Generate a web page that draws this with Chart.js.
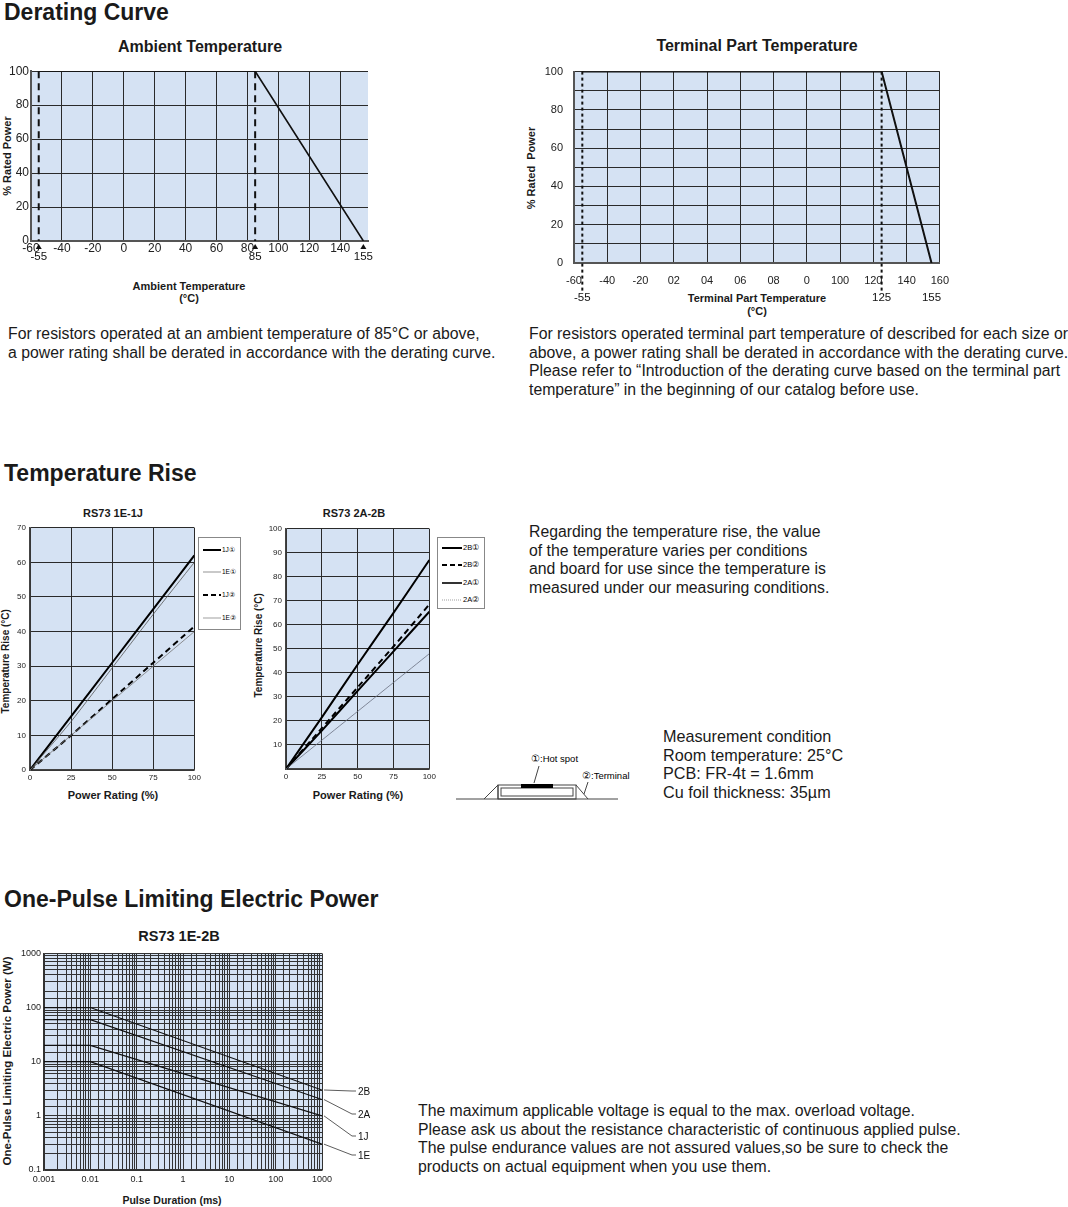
<!DOCTYPE html>
<html><head><meta charset="utf-8">
<script src="https://cdn.jsdelivr.net/npm/chart.js@4"></script>
<style>
body{margin:0;background:#fff;font-family:"Liberation Sans",Arial,sans-serif;color:#1a1a1a;}
#page{position:relative;width:1068px;height:1207px;overflow:hidden;}
.a{position:absolute;white-space:nowrap;}
.h{font-weight:bold;font-size:23px;}
.t{font-weight:bold;font-size:16px;transform:translateX(-50%);}
.st{font-weight:bold;font-size:11px;}
.p{font-size:15.8px;line-height:18.5px;}
.rot{transform:rotate(-90deg);transform-origin:center;}
canvas{position:absolute;}
.lg{position:absolute;border:1px solid #888;background:#fff;}
</style></head>
<body><div id="page">
<div class="a h" style="left:4px;top:-1px">Derating Curve</div>
<div class="a t" style="left:200px;top:38px">Ambient Temperature</div>
<div class="a t" style="left:757px;top:37px">Terminal Part Temperature</div>
<div class="a st" style="left:189px;top:280px;transform:translateX(-50%);text-align:center;line-height:12px">Ambient Temperature<br>(°C)</div>
<div class="a st" style="left:757px;top:292px;transform:translateX(-50%);text-align:center;line-height:13px">Terminal Part Temperature<br>(°C)</div>
<div class="a st rot" style="left:-38px;top:150px;width:90px;text-align:center">% Rated Power</div>
<div class="a st rot" style="left:484px;top:162px;width:94px;text-align:center">% Rated&nbsp; Power</div>
<div class="a p" style="left:8px;top:325px">For resistors operated at an ambient temperature of 85°C or above,<br>a power rating shall be derated in accordance with the derating curve.</div>
<div class="a p" style="left:529px;top:325px">For resistors operated terminal part temperature of described for each size or<br>above, a power rating shall be derated in accordance with the derating curve.<br>Please refer to “Introduction of the derating curve based on the terminal part<br>temperature” in the beginning of our catalog before use.</div>

<div class="a h" style="left:4px;top:460px">Temperature Rise</div>
<div class="a st" style="left:113px;top:507px;transform:translateX(-50%)">RS73 1E-1J</div>
<div class="a st" style="left:354px;top:507px;transform:translateX(-50%)">RS73 2A-2B</div>
<div class="a st rot" style="left:-45px;top:658px;width:100px;text-align:center;font-size:10px">Temperature Rise (°C)</div>
<div class="a st rot" style="left:208px;top:642px;width:100px;text-align:center;font-size:10px">Temperature Rise (°C)</div>
<div class="a st" style="left:113px;top:789px;transform:translateX(-50%)">Power Rating (%)</div>
<div class="a st" style="left:358px;top:789px;transform:translateX(-50%)">Power Rating (%)</div>
<div class="lg" style="left:198px;top:537px;width:41px;height:91px">
<svg width="41" height="91" style="position:absolute;left:0;top:0;font-family:Liberation Sans;font-size:6.5px">
<line x1="4" y1="12" x2="22" y2="12" stroke="#000" stroke-width="2"/><text x="23" y="14">1J①</text>
<line x1="4" y1="34" x2="22" y2="34" stroke="#666" stroke-width="0.7"/><text x="23" y="36">1E①</text>
<line x1="4" y1="57" x2="22" y2="57" stroke="#000" stroke-width="2" stroke-dasharray="5,3"/><text x="23" y="59">1J②</text>
<line x1="4" y1="80" x2="22" y2="80" stroke="#777" stroke-width="0.7"/><text x="23" y="82">1E②</text>
</svg></div>
<div class="lg" style="left:437px;top:537px;width:46px;height:70px">
<svg width="46" height="70" style="position:absolute;left:0;top:0;font-family:Liberation Sans;font-size:7.5px">
<line x1="4" y1="10" x2="24" y2="10" stroke="#000" stroke-width="2"/><text x="25" y="12">2B①</text>
<line x1="4" y1="27" x2="24" y2="27" stroke="#000" stroke-width="2" stroke-dasharray="5,3"/><text x="25" y="29">2B②</text>
<line x1="4" y1="45" x2="24" y2="45" stroke="#000" stroke-width="1.6"/><text x="25" y="47">2A①</text>
<line x1="4" y1="62" x2="24" y2="62" stroke="#777" stroke-width="0.7" stroke-dasharray="1,1"/><text x="25" y="64">2A②</text>
</svg></div>
<div class="a p" style="left:529px;top:523px">Regarding the temperature rise, the value<br>of the temperature varies per conditions<br>and board for use since the temperature is<br>measured under our measuring conditions.</div>
<div class="a p" style="left:663px;top:727px;font-size:16.2px">Measurement condition<br>Room temperature: 25°C<br>PCB: FR-4t = 1.6mm<br>Cu foil thickness: 35µm</div>
<svg class="a" style="left:450px;top:745px" width="200" height="60" font-family="Liberation Sans" font-size="9.5">
<line x1="6" y1="54" x2="168" y2="54" stroke="#444"/>
<polyline points="34,54 48,40 48,54" fill="none" stroke="#444"/>
<polyline points="126,40 138,54" fill="none" stroke="#444"/>
<rect x="48" y="40" width="78" height="14" fill="none" stroke="#444"/>
<rect x="51" y="43" width="72" height="8" fill="none" stroke="#444"/>
<rect x="71" y="39" width="32" height="4" fill="#000"/>
<text x="81" y="17">①:Hot spot</text>
<line x1="89" y1="21" x2="84" y2="38" stroke="#444"/>
<text x="132" y="34">②:Terminal</text>
<line x1="138" y1="37" x2="134" y2="49" stroke="#444"/>
</svg>

<div class="a h" style="left:4px;top:886px">One-Pulse Limiting Electric Power</div>
<div class="a t" style="left:179px;top:928px;font-size:14.5px;transform:translateX(-50%)">RS73 1E-2B</div>
<div class="a st rot" style="left:-98px;top:1055px;width:210px;text-align:center;font-size:11.5px">One-Pulse Limiting Electric Power (W)</div>
<div class="a st" style="left:172px;top:1194px;font-size:10.5px;transform:translateX(-50%)">Pulse Duration (ms)</div>
<div class="a p" style="left:418px;top:1102px">The maximum applicable voltage is equal to the max. overload voltage.<br>Please ask us about the resistance characteristic of continuous applied pulse.<br>The pulse endurance values are not assured values,so be sure to check the<br>products on actual equipment when you use them.</div>

<canvas id="c1"></canvas><canvas id="c2"></canvas><canvas id="c3"></canvas><canvas id="c4"></canvas><canvas id="c5"></canvas>
</div>
<script>
// ---------- data ----------
const ambientTemp = [-55, 85, 155];
const ambientPower = [100, 100, 0];
const ambientTickValues = [-60, -40, -20, 0, 20, 40, 60, 80, 100, 120, 140];
const ambientTickLabels = ['-60', '-40', '-20', '0', '20', '40', '60', '80', '100', '120', '140'];
const ambientMarks = [-55, 85, 155];

const terminalTemp = [-55, 125, 155];
const terminalPower = [100, 100, 0];
const terminalTickValues = [-60, -40, -20, 0, 20, 40, 60, 80, 100, 120, 140, 160];
const terminalTickLabels = ['-60', '-40', '-20', '02', '04', '06', '08', '0', '100', '120', '140', '160'];
const terminalMarks = [-55, 125, 155];

const powerRating = [0, 25, 50, 75, 100];
const rise1J1 = [0, 15.5, 31, 46.5, 62];
const rise1E1 = [0, 14, 29.5, 45, 60];
const rise1J2 = [0, 10, 20.5, 31, 41.5];
const rise1E2 = [0, 10, 20, 30, 40];
const rise2B1 = [0, 21.5, 43.5, 65, 87];
const rise2B2 = [0, 17, 34, 51, 68.5];
const rise2A1 = [0, 16, 32.5, 49, 65.5];
const rise2A2 = [0, 12, 24, 36, 48];

const pulseDuration = [0.001, 0.01, 1000];
const pulse2B = [100, 100, 3];
const pulse2A = [60, 60, 2];
const pulse1J = [20, 20, 1];
const pulse1E = [10, 10, 0.3];
const pulseNames = ['2B', '2A', '1J', '1E'];

// ---------- helpers ----------
const BG = '#d5e2f3', GRID = '#2a2a2a', FONT = 'Liberation Sans';
const bgPlugin = {id:'bg', beforeDraw(c){const a=c.chartArea,x=c.ctx;x.save();x.fillStyle=BG;x.fillRect(a.left,a.top,a.right-a.left,a.bottom-a.top);x.restore();}};
function place(id, plot, yW, pt, pr, xH){
  const cv=document.getElementById(id);
  const w=plot[2]-plot[0]+yW+pr, h=plot[3]-plot[1]+pt+xH;
  cv.style.left=(plot[0]-yW)+'px'; cv.style.top=(plot[1]-pt)+'px';
  cv.style.width=w+'px'; cv.style.height=h+'px'; cv.width=w; cv.height=h;
  return cv;
}
const fixW = w => s => { s.width = w; };
const fixH = h => s => { s.height = h; };
function pts(xs, ys){ return xs.map((x,i)=>({x, y:ys[i]})); }
function baseOpts(){return {responsive:false, animation:false, devicePixelRatio:1, plugins:{legend:{display:false},tooltip:{enabled:false}}};}

function markPlugin(marks, style, labelY, tri, extendTo){
  return {id:'marks'+labelY, afterDatasetsDraw(c){
    const x=c.ctx,a=c.chartArea,sx=c.scales.x; x.save();
    x.strokeStyle='#111'; x.lineWidth=2; x.setLineDash(style);
    marks.forEach((m,i)=>{ if(i===marks.length-1) return; const px=sx.getPixelForValue(m);
      x.beginPath(); x.moveTo(px,a.top); x.lineTo(px,a.bottom+extendTo); x.stroke(); });
    x.setLineDash([]); x.fillStyle='#111'; x.font='11.5px '+FONT; x.textAlign='center';
    marks.forEach(m=>{ const px=sx.getPixelForValue(m);
      if(tri){ x.beginPath(); x.moveTo(px,a.bottom+3); x.lineTo(px-3,a.bottom+8); x.lineTo(px+3,a.bottom+8); x.closePath(); x.fill(); }
      x.fillText(String(m), px, a.bottom+labelY); });
    x.restore(); }};
}

// ---------- Ambient ----------
{
  const cv=place('c1',[31,70,368,241],30,8,8,60);
  new Chart(cv,{type:'line',data:{datasets:[{data:pts(ambientTemp,ambientPower),borderColor:'#111',borderWidth:1.6,pointRadius:0,tension:0}]},
    options:Object.assign(baseOpts(),{layout:{padding:{top:8,right:8}},
      scales:{x:{type:'linear',min:-60,max:158,afterFit:fixH(60),
          afterBuildTicks:s=>{s.ticks=ambientTickValues.map(v=>({value:v}));},
          ticks:{autoSkip:false,maxRotation:0,padding:0,color:'#222',font:{family:FONT,size:12},callback:(v,i)=>ambientTickLabels[i]},
          grid:{color:GRID,lineWidth:1,drawTicks:false},border:{color:'#555',width:2}},
        y:{min:0,max:100,afterFit:fixW(30),ticks:{stepSize:20,padding:2,color:'#222',font:{family:FONT,size:12}},
          grid:{color:GRID,lineWidth:1,drawTicks:false},border:{color:'#555',width:2}}}}),
    plugins:[bgPlugin, markPlugin(ambientMarks,[7,5],19,true,0)]});
}
// ---------- Terminal ----------
{
  const cv=place('c2',[574,62,946,263],40,8,14,60);
  new Chart(cv,{type:'line',data:{datasets:[{data:pts(terminalTemp,terminalPower),borderColor:'#111',borderWidth:2,pointRadius:0,tension:0}]},
    options:Object.assign(baseOpts(),{layout:{padding:{top:8,right:14}},
      scales:{x:{type:'linear',min:-60,max:160,afterFit:fixH(60),
          afterBuildTicks:s=>{s.ticks=terminalTickValues.map(v=>({value:v}));},
          ticks:{autoSkip:false,maxRotation:0,padding:11,color:'#222',font:{family:FONT,size:11},callback:(v,i)=>terminalTickLabels[i]},
          grid:{color:GRID,lineWidth:1,drawTicks:false},border:{color:'#555',width:2}},
        y:{min:0,max:100,afterFit:fixW(40),ticks:{stepSize:10,padding:11,color:'#222',font:{family:FONT,size:11},callback:v=>v%20===0?v:''},
          grid:{color:GRID,lineWidth:1,drawTicks:false},border:{color:'#555',width:2}}}}),
    plugins:[bgPlugin, markPlugin(terminalMarks,[3,3],38,false,28)]});
}
// ---------- Temperature rise ----------
function riseChart(id, plot, ymax, sets, hideZero){
  const cv=place(id,plot,24,6,6,20);
  new Chart(cv,{type:'line',data:{datasets:sets.map(s=>({data:pts(powerRating,s[0]),borderColor:s[1],borderWidth:s[2],borderDash:s[3]||[],pointRadius:0,tension:0.2}))},
    options:Object.assign(baseOpts(),{layout:{padding:{top:6,right:6}},
      scales:{x:{type:'linear',min:0,max:100,afterFit:fixH(20),ticks:{stepSize:25,padding:3,color:'#222',font:{family:FONT,size:8}},
          grid:{color:GRID,lineWidth:1,drawTicks:false},border:{color:'#444',width:1.5}},
        y:{min:0,max:ymax,afterFit:fixW(24),ticks:{stepSize:10,padding:4,color:'#222',font:{family:FONT,size:8},callback:v=>(hideZero&&v===0)?'':v},
          grid:{color:GRID,lineWidth:1,drawTicks:false},border:{color:'#444',width:1.5}}}}),
    plugins:[bgPlugin]});
}
riseChart('c3',[30,525,198,770],70,[[rise1E2,'#777',0.8],[rise1E1,'#555',0.8],[rise1J2,'#000',2,[6,4]],[rise1J1,'#000',2]],false);
riseChart('c4',[286,526,433,769],100,[[rise2A2,'#6a7080',0.8],[rise2A1,'#000',2],[rise2B2,'#000',2,[6,4]],[rise2B1,'#000',2]],true);

// ---------- One pulse ----------
{
  const cv=place('c5',[44,951,322,1170],30,6,60,22);
  const labY=[1091,1114,1136,1155];
  const leader={id:'leader',afterDatasetsDraw(c){const x=c.ctx,sx=c.scales.x,sy=c.scales.y,top=951-6;x.save();
    x.strokeStyle='#333';x.lineWidth=0.8;x.fillStyle='#111';x.font='10px '+FONT;
    [pulse2B,pulse2A,pulse1J,pulse1E].forEach((s,i)=>{const px=sx.getPixelForValue(1000)+2,py=sy.getPixelForValue(s[2]);const ly=labY[i]-top;
      x.beginPath();x.moveTo(px,py);x.lineTo(px+28,ly);x.lineTo(px+32,ly);x.stroke();x.fillText(pulseNames[i],px+34,ly+3.5);});
    x.restore();}};
  new Chart(cv,{type:'line',data:{datasets:[pulse2B,pulse2A,pulse1J,pulse1E].map(s=>({data:pts(pulseDuration,s),borderColor:'#111',borderWidth:1.2,pointRadius:0,tension:0}))},
    options:Object.assign(baseOpts(),{layout:{padding:{top:6,right:60}},
      scales:{x:{type:'logarithmic',min:0.001,max:1000,afterFit:fixH(22),
          ticks:{autoSkip:false,maxRotation:0,padding:4,color:'#222',font:{family:FONT,size:9},callback:v=>Number.isInteger(Math.round(Math.log10(v)*1000)/1000)?String(v):''},
          grid:{color:'#333',lineWidth:1,drawTicks:false},border:{color:'#333',width:1.5}},
        y:{type:'logarithmic',min:0.1,max:1000,afterFit:fixW(30),
          ticks:{autoSkip:false,padding:3,color:'#222',font:{family:FONT,size:9},callback:v=>Number.isInteger(Math.round(Math.log10(v)*1000)/1000)?String(v):''},
          grid:{color:'#333',lineWidth:1,drawTicks:false},border:{color:'#333',width:1.5}}}}),
    plugins:[bgPlugin,leader]});
}
</script>
</body></html>
